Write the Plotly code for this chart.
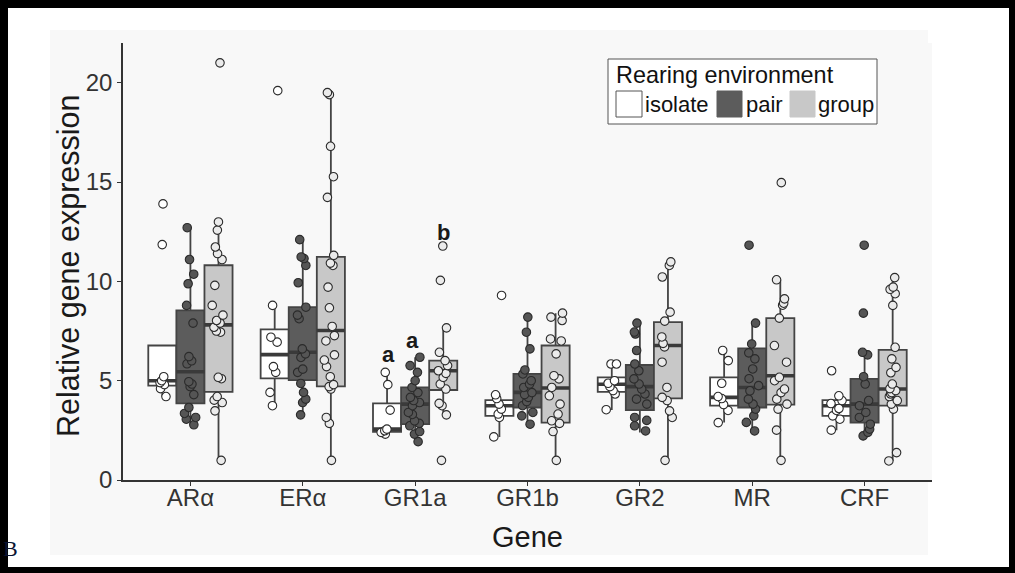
import plotly.graph_objects as go

# ---------------- data ----------------
genes = ["ARα", "ERα", "GR1a", "GR1b", "GR2", "MR", "CRF"]
groups = ["isolate", "pair", "group"]

isolate_points = [
    [13.9, 11.85, 5.2, 5.0, 4.9, 4.8, 4.6, 4.2],
    [19.6, 8.79, 7.19, 6.94, 5.71, 5.42, 4.41, 3.74],
    [5.42, 4.8, 3.52, 2.56, 2.48, 2.4, 2.31],
    [9.29, 4.29, 4.1, 3.82, 3.57, 3.32, 3.15, 2.17],
    [5.84, 5.84, 5.0, 4.87, 4.7, 4.5, 4.33, 3.54],
    [6.52, 6.01, 4.87, 4.2, 4.1, 3.8, 3.5, 2.89],
    [5.5, 4.24, 4.0, 3.85, 3.6, 3.5, 3.23, 3.06, 2.51],
]
pair_points = [
    [12.7, 11.1, 10.36, 9.88, 8.79, 7.9, 6.21, 6.0, 5.85, 4.95, 4.83, 4.7, 4.3, 3.65, 3.35, 3.15, 3.06, 2.78],
    [12.1, 11.23, 11.15, 10.8, 9.93, 8.7, 8.3, 8.12, 6.6, 6.35, 6.17, 5.58, 5.42, 4.86, 4.41, 4.07, 3.9, 3.28],
    [6.18, 5.76, 5.42, 5.0, 4.66, 4.4, 4.16, 4.0, 3.9, 3.74, 3.4, 3.3, 2.98, 2.85, 2.73, 2.44, 2.31, 1.93],
    [8.2, 7.44, 6.6, 5.54, 5.34, 5.0, 4.83, 4.66, 4.4, 4.3, 4.16, 3.95, 3.74, 3.4, 3.23, 2.81],
    [7.9, 7.45, 7.35, 6.52, 5.84, 5.5, 5.09, 4.83, 4.58, 4.33, 4.07, 3.82, 3.15, 3.0, 2.73, 2.47],
    [11.82, 7.9, 6.85, 6.4, 6.1, 5.59, 5.1, 4.75, 4.49, 4.07, 3.82, 3.57, 3.23, 2.9, 2.47],
    [11.82, 8.4, 6.43, 6.3, 5.2, 4.83, 4.0, 3.74, 3.4, 3.15, 2.81, 2.56, 2.4, 2.22],
]
group_points = [
    [21.0, 12.99, 12.58, 11.73, 11.4, 11.1, 9.8, 8.79, 8.3, 8.03, 7.9, 7.69, 7.5, 7.44, 5.17, 5.1, 4.2, 4.02, 3.9, 3.48, 0.99],
    [19.5, 19.4, 16.8, 15.27, 14.23, 11.31, 10.92, 10.8, 9.71, 8.67, 7.73, 7.27, 7.0, 6.3, 6.04, 5.71, 5.2, 4.8, 4.7, 4.58, 3.15, 2.85, 0.99],
    [11.78, 10.05, 7.66, 6.43, 6.01, 5.76, 5.5, 5.37, 5.17, 4.83, 4.58, 3.86, 3.74, 3.28, 0.99],
    [8.4, 8.2, 8.03, 7.1, 7.0, 6.35, 5.25, 5.09, 4.66, 4.24, 3.82, 3.32, 2.98, 2.85, 2.44, 0.99],
    [10.98, 10.8, 10.22, 8.45, 8.0, 7.2, 6.88, 6.7, 5.93, 4.66, 4.16, 4.0, 3.48, 3.15, 0.99],
    [14.97, 10.08, 9.12, 8.9, 8.8, 8.15, 6.77, 5.93, 5.17, 5.0, 4.58, 4.4, 4.07, 3.82, 3.57, 2.51, 0.99],
    [10.19, 9.71, 9.6, 9.38, 8.79, 6.68, 6.1, 5.67, 5.4, 4.83, 4.6, 4.5, 4.4, 4.33, 4.2, 4.0, 3.82, 3.57, 1.38, 0.96],
]

# box statistics (q1, median, q3, lower whisker, upper whisker)
isolate_q1 = [4.75, 5.12, 2.42, 3.23, 4.44, 3.74, 3.23]
isolate_med = [5.0, 6.31, 2.56, 3.74, 4.82, 4.16, 3.74]
isolate_q3 = [6.77, 7.58, 3.86, 4.02, 5.17, 5.17, 4.02]
isolate_lo = [4.2, 3.74, 2.31, 2.17, 3.52, 2.89, 2.51]
isolate_hi = [6.77, 8.79, 5.54, 4.34, 5.84, 6.52, 4.24]

pair_q1 = [3.86, 5.03, 2.81, 3.65, 3.52, 3.65, 2.89]
pair_med = [5.45, 6.43, 3.82, 4.41, 4.70, 4.66, 3.82]
pair_q3 = [8.54, 8.70, 4.66, 5.34, 5.79, 6.63, 5.09]
pair_lo = [2.78, 3.28, 1.92, 2.81, 2.39, 2.47, 2.22]
pair_hi = [12.71, 12.1, 6.18, 8.2, 7.9, 7.9, 6.43]

group_q1 = [4.44, 4.71, 4.53, 2.89, 4.11, 3.79, 3.74]
group_med = [7.81, 7.53, 5.5, 4.63, 6.77, 5.25, 4.58]
group_q3 = [10.81, 11.23, 6.01, 6.77, 7.95, 8.15, 6.55]
group_lo = [0.99, 0.99, 3.28, 0.99, 0.99, 0.99, 0.96]
group_hi = [12.95, 19.43, 7.66, 8.4, 10.98, 10.08, 10.19]

letters = ["a", "a", "b"]
letter_x = [1.76, 1.98, 2.25]
letter_y = [6.3, 7.0, 12.45]

y_ticks = [0, 5, 10, 15, 20]

# ---------------- styling ----------------
W, H = 1015, 573
ML, MR_, MT, MB = 123, 83, 43, 93
PW, PH = W - ML - MR_, H - MT - MB

def px(x):
    return (x - ML) / PW

def py(y):
    return (H - MB - y) / PH

box_fill = {"isolate": "#ffffff", "pair": "#5c5c5c", "group": "#c8c8c8"}
pt_fill = {"isolate": "#ffffff", "pair": "#555555", "group": "#ebebeb"}
outline = "#444444"
FONT = "Liberation Sans, Arial, sans-serif"

stats = {
    "isolate": (isolate_q1, isolate_med, isolate_q3, isolate_lo, isolate_hi),
    "pair": (pair_q1, pair_med, pair_q3, pair_lo, pair_hi),
    "group": (group_q1, group_med, group_q3, group_lo, group_hi),
}
points = {"isolate": isolate_points, "pair": pair_points, "group": group_points}

fig = go.Figure()

for g in groups:
    q1, med, q3, lo, hi = stats[g]
    fig.add_trace(go.Box(
        x=genes, q1=q1, median=med, q3=q3, lowerfence=lo, upperfence=hi,
        name=g, fillcolor=box_fill[g], line=dict(color=outline, width=1.8),
        whiskerwidth=0, boxpoints=False, offsetgroup=g, alignmentgroup="all",
        showlegend=False, hoverinfo="skip",
    ))

# thicker median bars (ggplot 'fatten')
for g in groups:
    med = stats[g][1]
    fig.add_trace(go.Box(
        x=genes, q1=med, median=med, q3=med, lowerfence=med, upperfence=med,
        name=g + " median", fillcolor="rgba(0,0,0,0)", line=dict(color="#3a3a3a", width=3.6),
        whiskerwidth=0, boxpoints=False, offsetgroup=g, alignmentgroup="all",
        showlegend=False, hoverinfo="skip",
    ))

for g in groups:
    xs, ys = [], []
    for gene, vals in zip(genes, points[g]):
        xs += [gene] * len(vals)
        ys += vals
    fig.add_trace(go.Box(
        x=xs, y=ys, name=g + " points", boxpoints="all", jitter=0.5, pointpos=0,
        fillcolor="rgba(0,0,0,0)", line=dict(color="rgba(0,0,0,0)", width=0),
        whiskerwidth=0,
        marker=dict(size=8.5, color=pt_fill[g], line=dict(color="#2b2b2b", width=1.1)),
        offsetgroup=g, alignmentgroup="all", showlegend=False, hoverinfo="y",
    ))

# significance letters
for t, xv, yv in zip(letters, letter_x, letter_y):
    fig.add_annotation(x=xv, y=yv, xref="x", yref="y", text="<b>%s</b>" % t,
                       showarrow=False, font=dict(size=22, color="#1a1a1a", family=FONT))

shapes = []
# light panel background behind the whole plot
shapes.append(dict(type="rect", xref="paper", yref="paper", layer="below",
                   x0=px(50), x1=px(928), y0=py(555), y1=py(30),
                   fillcolor="#f8f8f8", line=dict(width=0)))
# black frame of the picture
for (a, b, c, d) in [(-5, 8, -5, H + 5), (-5, W + 5, -5, 8), (1009, W + 5, -5, H + 5), (-5, W + 5, 567, H + 5)]:
    shapes.append(dict(type="rect", xref="paper", yref="paper", layer="above",
                       x0=px(a), x1=px(b), y0=py(d), y1=py(c),
                       fillcolor="#000000", line=dict(width=0)))

# legend (manual, ggplot-like)
shapes.append(dict(type="rect", xref="paper", yref="paper", layer="above",
                   x0=px(608), x1=px(877), y0=py(124), y1=py(59),
                   fillcolor="#ffffff", line=dict(color="#555555", width=1)))
key_x = [(616, 642), (717, 742), (790, 815)]
key_line = {"isolate": "#555555", "pair": "#5c5c5c", "group": "#c8c8c8"}
label_x = [643, 744, 816]
for g, (k0, k1), lx in zip(groups, key_x, label_x):
    shapes.append(dict(type="rect", xref="paper", yref="paper", layer="above",
                       x0=px(k0), x1=px(k1), y0=py(117), y1=py(91),
                       fillcolor=box_fill[g], line=dict(color=key_line[g], width=1)))
    fig.add_annotation(x=px(lx), y=py(104), xref="paper", yref="paper", text=g,
                       xanchor="left", yanchor="middle", showarrow=False,
                       font=dict(size=22, color="#111111", family=FONT))
fig.add_annotation(x=px(614), y=py(75), xref="paper", yref="paper", text="Rearing environment",
                   xanchor="left", yanchor="middle", showarrow=False,
                   font=dict(size=23.4, color="#111111", family=FONT))
# y-axis title (placed as in the reference)
fig.add_annotation(x=px(68), y=py(266), xref="paper", yref="paper", text="Relative gene expression",
                   textangle=-90, xanchor="center", yanchor="middle", showarrow=False,
                   font=dict(size=30.5, color="#1a1a1a", family=FONT))
# cropped panel label
fig.add_annotation(x=px(10), y=py(548), xref="paper", yref="paper", text="B",
                   xanchor="center", yanchor="middle", showarrow=False,
                   font=dict(size=22, color="#0a1433", family="Liberation Serif, serif"))

fig.update_layout(
    width=W, height=H,
    margin=dict(l=ML, r=MR_, t=MT, b=MB, pad=0),
    paper_bgcolor="#ffffff", plot_bgcolor="#f8f8f8",
    boxmode="group", boxgap=0.25, boxgroupgap=0,
    shapes=shapes,
    font=dict(family=FONT, color="#333333"),
    showlegend=False,
)
fig.update_xaxes(
    type="category", categoryorder="array", categoryarray=genes,
    range=[-0.6, 6.6], showline=True, linecolor="#333333", linewidth=1.5,
    ticks="outside", ticklen=4, tickcolor="#333333", tickwidth=1,
    showgrid=False, zeroline=False, ticklabelstandoff=-9,
    tickfont=dict(size=24, color="#333333", family=FONT),
    title=dict(text="Gene", font=dict(size=29, color="#1a1a1a", family=FONT), standoff=17),
)
fig.update_yaxes(
    range=[0, 22], tickvals=y_ticks, showline=True, linecolor="#333333", linewidth=1.5,
    ticks="outside", ticklen=4, tickcolor="#333333", tickwidth=1,
    showgrid=False, zeroline=False,
    tickfont=dict(size=24, color="#333333", family=FONT),
)

fig.write_html("out.html", config={"displayModeBar": False},
               post_script="document.body.style.margin='0';document.body.style.overflow='hidden';")
